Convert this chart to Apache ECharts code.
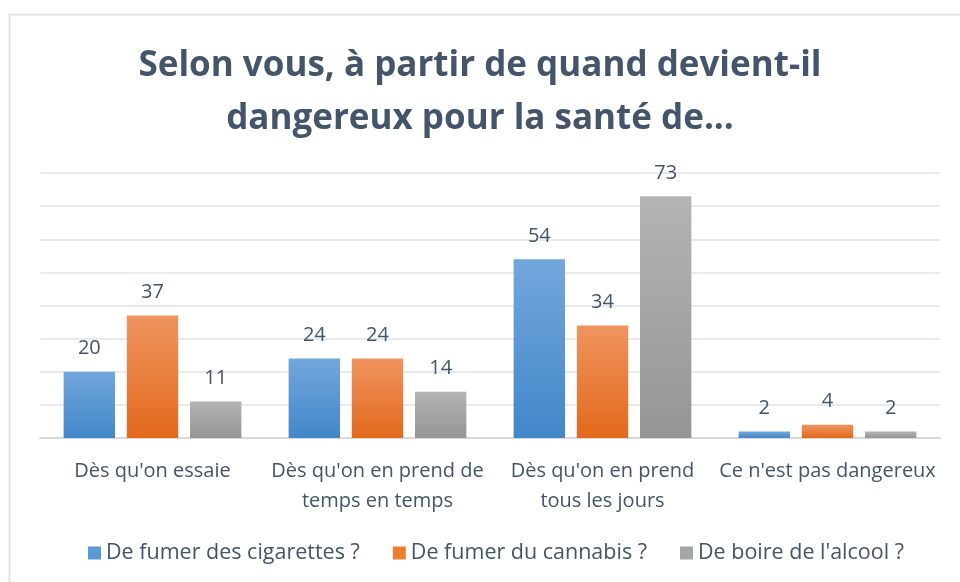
<!DOCTYPE html>
<html>
<head>
<meta charset="utf-8">
<script src="https://cdn.jsdelivr.net/npm/echarts@6/dist/echarts.min.js"></script>
<style>
    html, body { margin: 0; padding: 0; background: #fff; }
    #chart { width: 960px; height: 582px; }
</style>
</head>
<body>
<div id="chart"></div>
<script>
const categories = ["Dès qu'on essaie", "Dès qu'on en prend de\ntemps en temps", "Dès qu'on en prend\ntous les jours", "Ce n'est pas dangereux"]
const cigarettes = [20, 24, 54, 2]
const cannabis = [37, 24, 34, 4]
const alcool = [11, 14, 73, 2]
const seriesNames = ["De fumer des cigarettes ?", "De fumer du cannabis ?", "De boire de l'alcool ?"]

const textColor = '#44546A'
const font = "'Open Sans', 'Liberation Sans', sans-serif"

function grad(top, bottom) {
    return new echarts.graphic.LinearGradient(0, 0, 0, 1, [
        { offset: 0, color: top },
        { offset: 1, color: bottom }
    ])
}

const colors = [
    grad('#72a7dc', '#4287c9'),
    grad('#f09460', '#e2691b'),
    grad('#b4b4b4', '#959595')
]
const legendColors = ['#5b9bd5', '#ed7d31', '#a5a5a5']

function bar(name, data, i) {
    return {
        name,
        type: 'bar',
        data,
        barGap: '23%',
        barCategoryGap: '21%',
        itemStyle: { color: colors[i] },
        label: {
            show: true,
            position: 'top',
            distance: 13,
            color: textColor,
            fontSize: 20,
            fontFamily: font
        }
    }
}

const chart = echarts.init(document.getElementById('chart'))
chart.setOption({
    animation: false,
    color: legendColors,
    title: {
        text: 'Selon vous, à partir de quand devient-il\ndangereux pour la santé de...',
        left: 'center',
        top: 35,
        textStyle: {
            color: textColor,
            fontSize: 35,
            fontWeight: 'bold',
            fontFamily: font,
            lineHeight: 53
        }
    },
    graphic: [{
        type: 'rect',
        shape: { x: 9.5, y: 14.5, width: 1000, height: 1000 },
        style: { fill: 'none', stroke: '#dfe3e8', lineWidth: 2 },
        silent: true
    }],
    legend: {
        bottom: 13,
        left: 83,
        itemWidth: 13,
        itemHeight: 13,
        itemGap: 33,
        itemStyle: { borderWidth: 0 },
        icon: 'rect',
        textStyle: { color: textColor, fontSize: 21.5, fontFamily: font },
        data: seriesNames.map((n, i) => ({ name: n, itemStyle: { color: legendColors[i] } }))
    },
    grid: { left: 40, right: 20, top: 173, bottom: 144 },
    xAxis: {
        type: 'category',
        data: categories,
        axisTick: { show: false },
        axisLine: { lineStyle: { color: '#d9d9d9', width: 2 } },
        axisLabel: {
            color: textColor,
            fontSize: 20,
            fontFamily: font,
            lineHeight: 30,
            margin: 18,
            interval: 0
        }
    },
    yAxis: {
        type: 'value',
        min: 0,
        max: 80,
        interval: 10,
        axisLabel: { show: false },
        axisLine: { show: false },
        axisTick: { show: false },
        splitLine: { lineStyle: { color: '#dfe3e8', width: 1.5 } }
    },
    series: [
        bar(seriesNames[0], cigarettes, 0),
        bar(seriesNames[1], cannabis, 1),
        bar(seriesNames[2], alcool, 2)
    ]
})
</script>
</body>
</html>
